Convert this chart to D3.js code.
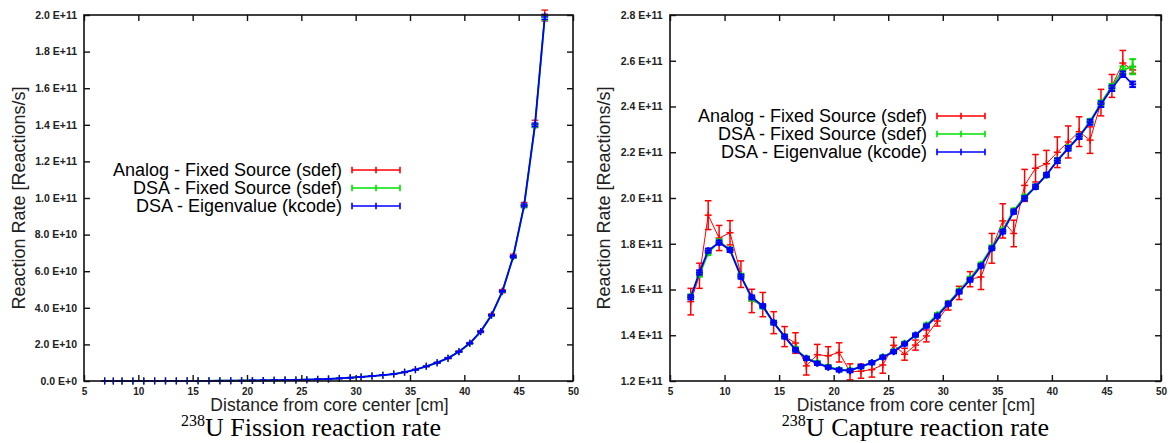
<!DOCTYPE html>
<html><head><meta charset="utf-8">
<script src="https://cdn.jsdelivr.net/npm/d3@7"></script>
<style>body{margin:0;background:#fff;}svg{display:block}</style>
</head><body>
<svg id="c" width="1170" height="443"></svg>
<script>
// ---------------- DATA ----------------
const distance = [6.9, 7.7, 8.5, 9.5, 10.5, 11.5, 12.5, 13.5, 14.5, 15.5, 16.5, 17.5, 18.5, 19.5, 20.5, 21.5, 22.5, 23.5, 24.5, 25.5,
  26.5, 27.5, 28.5, 29.5, 30.5, 31.5, 32.5, 33.5, 34.5, 35.5, 36.5, 37.5, 38.5, 39.5, 40.5, 41.5, 42.5, 43.5, 44.5, 45.5, 46.5, 47.4];

const seriesNames = ["Analog - Fixed Source (sdef)", "DSA - Fixed Source (sdef)", "DSA - Eigenvalue (kcode)"];

// U-238 fission rate, in units of 1E+10 reactions/s
const fissionAnalog = [0.004, 0.004, 0.004, 0.005, 0.005, 0.006, 0.006, 0.007, 0.008, 0.010, 0.012, 0.015, 0.018, 0.022, 0.027, 0.033, 0.040, 0.050, 0.060, 0.075,
  0.090, 0.11, 0.14, 0.18, 0.22, 0.27, 0.32, 0.38, 0.48, 0.62, 0.80, 1.00, 1.25, 1.61, 2.06, 2.70, 3.60, 4.91, 6.82, 9.62, 14.05, 19.97];
const fissionAnalogErr = [0.003, 0.003, 0.003, 0.003, 0.003, 0.003, 0.003, 0.003, 0.003, 0.003, 0.003, 0.003, 0.004, 0.004, 0.004, 0.004, 0.005, 0.005, 0.006, 0.006,
  0.007, 0.008, 0.009, 0.01, 0.012, 0.014, 0.016, 0.018, 0.02, 0.024, 0.028, 0.03, 0.035, 0.04, 0.05, 0.06, 0.07, 0.09, 0.11, 0.14, 0.2, 0.3];
const fissionDSAFixed = [0.004, 0.004, 0.004, 0.005, 0.005, 0.006, 0.006, 0.007, 0.008, 0.010, 0.012, 0.015, 0.018, 0.022, 0.027, 0.033, 0.040, 0.050, 0.060, 0.075,
  0.090, 0.11, 0.14, 0.18, 0.22, 0.27, 0.32, 0.38, 0.48, 0.62, 0.80, 1.00, 1.25, 1.60, 2.05, 2.69, 3.58, 4.88, 6.77, 9.55, 13.95, 19.85];
const fissionDSAFixedErr = [0.002, 0.002, 0.002, 0.002, 0.002, 0.002, 0.002, 0.002, 0.002, 0.002, 0.002, 0.002, 0.002, 0.002, 0.002, 0.003, 0.003, 0.003, 0.003, 0.003,
  0.003, 0.004, 0.004, 0.005, 0.005, 0.006, 0.006, 0.007, 0.008, 0.009, 0.01, 0.012, 0.014, 0.016, 0.02, 0.025, 0.03, 0.04, 0.06, 0.08, 0.1, 0.14];
const fissionDSAEig = [0.004, 0.004, 0.004, 0.005, 0.005, 0.006, 0.006, 0.007, 0.008, 0.010, 0.012, 0.015, 0.018, 0.022, 0.027, 0.033, 0.040, 0.050, 0.060, 0.075,
  0.090, 0.11, 0.14, 0.18, 0.22, 0.27, 0.32, 0.38, 0.48, 0.62, 0.80, 1.00, 1.25, 1.60, 2.06, 2.70, 3.60, 4.90, 6.80, 9.60, 14.0, 19.9];
const fissionDSAEigErr = [0.002, 0.002, 0.002, 0.002, 0.002, 0.002, 0.002, 0.002, 0.002, 0.002, 0.002, 0.002, 0.002, 0.002, 0.002, 0.003, 0.003, 0.003, 0.003, 0.003,
  0.003, 0.004, 0.004, 0.005, 0.005, 0.006, 0.006, 0.007, 0.008, 0.009, 0.01, 0.012, 0.014, 0.016, 0.02, 0.025, 0.03, 0.04, 0.06, 0.08, 0.1, 0.14];

// U-238 capture rate, in units of 1E+11 reactions/s
const captureAnalog = [1.547, 1.660, 1.925, 1.825, 1.848, 1.667, 1.550, 1.534, 1.455, 1.394, 1.366, 1.266, 1.315, 1.310, 1.325, 1.240, 1.243, 1.250, 1.270, 1.356,
  1.317, 1.357, 1.397, 1.462, 1.530, 1.585, 1.645, 1.655, 1.780, 1.900, 1.845, 2.055, 2.130, 2.150, 2.200, 2.245, 2.290, 2.253, 2.417, 2.490, 2.590, 2.560];
const captureAnalogErr = [0.058, 0.055, 0.063, 0.055, 0.053, 0.058, 0.051, 0.053, 0.048, 0.044, 0.045, 0.040, 0.045, 0.040, 0.042, 0.035, 0.031, 0.033, 0.036, 0.035,
  0.026, 0.022, 0.026, 0.022, 0.020, 0.029, 0.033, 0.055, 0.065, 0.075, 0.058, 0.070, 0.060, 0.058, 0.067, 0.070, 0.065, 0.058, 0.058, 0.050, 0.055, 0.015];
const captureDSAFixed = [1.570, 1.665, 1.760, 1.810, 1.775, 1.660, 1.560, 1.525, 1.455, 1.395, 1.340, 1.300, 1.280, 1.262, 1.250, 1.248, 1.262, 1.280, 1.305, 1.330,
  1.365, 1.400, 1.445, 1.490, 1.540, 1.595, 1.648, 1.710, 1.785, 1.860, 1.945, 2.005, 2.050, 2.100, 2.165, 2.220, 2.270, 2.335, 2.415, 2.487, 2.560, 2.574];
const captureDSAFixedErr = [0.009, 0.009, 0.009, 0.009, 0.009, 0.009, 0.008, 0.008, 0.008, 0.008, 0.008, 0.007, 0.007, 0.007, 0.007, 0.007, 0.007, 0.007, 0.007, 0.007,
  0.007, 0.007, 0.007, 0.007, 0.008, 0.008, 0.008, 0.008, 0.008, 0.008, 0.009, 0.009, 0.009, 0.009, 0.010, 0.010, 0.010, 0.011, 0.012, 0.012, 0.015, 0.033];
const captureDSAEig = [1.566, 1.675, 1.770, 1.805, 1.773, 1.656, 1.566, 1.528, 1.455, 1.394, 1.336, 1.299, 1.277, 1.260, 1.248, 1.245, 1.263, 1.280, 1.304, 1.328,
  1.362, 1.401, 1.440, 1.484, 1.537, 1.590, 1.642, 1.703, 1.780, 1.853, 1.940, 1.999, 2.049, 2.101, 2.163, 2.217, 2.268, 2.331, 2.410, 2.480, 2.541, 2.497];
const captureDSAEigErr = [0.009, 0.009, 0.009, 0.009, 0.009, 0.009, 0.008, 0.008, 0.008, 0.008, 0.008, 0.007, 0.007, 0.007, 0.007, 0.007, 0.007, 0.007, 0.007, 0.007,
  0.007, 0.007, 0.007, 0.007, 0.008, 0.008, 0.008, 0.008, 0.008, 0.008, 0.009, 0.009, 0.009, 0.009, 0.010, 0.010, 0.010, 0.011, 0.012, 0.012, 0.012, 0.012];

const xTicks = [5, 10, 15, 20, 25, 30, 35, 40, 45, 50];
const xTickLabels = ["5", "10", "15", "20", "25", "30", "35", "40", "45", "50"];
const fissionYTicks = [0, 2, 4, 6, 8, 10, 12, 14, 16, 18, 20];
const fissionYTickLabels = ["0.0 E+0", "2.0 E+10", "4.0 E+10", "6.0 E+10", "8.0 E+10", "1.0 E+11", "1.2 E+11", "1.4 E+11", "1.6 E+11", "1.8 E+11", "2.0 E+11"];
const captureYTicks = [1.2, 1.4, 1.6, 1.8, 2.0, 2.2, 2.4, 2.6, 2.8];
const captureYTickLabels = ["1.2 E+11", "1.4 E+11", "1.6 E+11", "1.8 E+11", "2.0 E+11", "2.2 E+11", "2.4 E+11", "2.6 E+11", "2.8 E+11"];

const xTitle = "Distance from core center [cm]";
const yTitle = "Reaction Rate [Reactions/s]";

// ---------------- DRAWING ----------------
const svg = d3.select("#c");
const colors = ["#ff0000", "#00e000", "#0000ff"];
const lineW = [1, 1.8, 1.8];
const SANS = "'Liberation Sans', Arial, sans-serif";
const SERIF = "'Liberation Serif', 'Times New Roman', serif";

function drawPanel(o) {
  const g = svg.append("g");
  const x = d3.scaleLinear().domain([5, 50]).range([o.left, o.right]);
  const y = d3.scaleLinear().domain(o.yDomain).range([o.bottom, o.top]);

  // series
  o.series.forEach((s, i) => {
    const col = colors[i];
    const pts = distance.map((d, j) => ({ x: d, v: s.v[j], e: s.e[j] }));
    g.append("path").datum(pts)
      .attr("d", d3.line().x(d => x(d.x)).y(d => y(d.v)))
      .attr("fill", "none").attr("stroke", col).attr("stroke-width", lineW[i]);
    const eb = g.append("g").attr("stroke", col).attr("stroke-width", o.barW[i]).attr("fill", "none");
    const cw = 3.3, pm = 3.5;
    pts.forEach(d => {
      const cx = x(d.x), y1 = y(d.v + d.e), y2 = y(d.v - d.e), yc = y(d.v);
      eb.append("line").attr("x1", cx).attr("x2", cx).attr("y1", y1).attr("y2", y2);
      eb.append("line").attr("x1", cx - cw).attr("x2", cx + cw).attr("y1", y1).attr("y2", y1);
      eb.append("line").attr("x1", cx - cw).attr("x2", cx + cw).attr("y1", y2).attr("y2", y2);
      eb.append("line").attr("x1", cx - pm).attr("x2", cx + pm).attr("y1", yc).attr("y2", yc);
      eb.append("line").attr("x1", cx).attr("x2", cx).attr("y1", yc - pm).attr("y2", yc + pm);
    });
  });

  // axes (inward ticks on all sides)
  const ax = [];
  ax.push(g.append("g").attr("transform", `translate(0,${o.bottom})`)
    .call(d3.axisBottom(x).tickValues(xTicks).tickFormat((d, i) => xTickLabels[i]).tickSizeInner(-6).tickSizeOuter(0).tickPadding(6.5)));
  ax.push(g.append("g").attr("transform", `translate(0,${o.top})`)
    .call(d3.axisTop(x).tickValues(xTicks).tickFormat("").tickSizeInner(-6).tickSizeOuter(0)));
  ax.push(g.append("g").attr("transform", `translate(${o.left},0)`)
    .call(d3.axisLeft(y).tickValues(o.yTicks).tickFormat((d, i) => o.yLabels[i]).tickSizeInner(-6).tickSizeOuter(0).tickPadding(o.yPad)));
  ax.push(g.append("g").attr("transform", `translate(${o.right},0)`)
    .call(d3.axisRight(y).tickValues(o.yTicks).tickFormat("").tickSizeInner(-6).tickSizeOuter(0)));
  ax.forEach((a, k) => {
    a.select(".domain").remove();
    a.selectAll(".tick line").attr("stroke", "#111").attr("stroke-width", 1.4);
    a.selectAll(".tick text").attr("fill", "#222").attr("font-family", SANS)
      .attr("font-weight", "bold").attr("font-size", k === 2 ? 10.5 : 10);
  });

  // frame
  g.append("rect").attr("x", o.left).attr("y", o.top)
    .attr("width", o.right - o.left).attr("height", o.bottom - o.top)
    .attr("fill", "none").attr("stroke", "#111").attr("stroke-width", 1.6);

  // axis titles
  g.append("text").attr("x", o.xTitleX).attr("y", 411).attr("text-anchor", "middle")
    .attr("font-family", SANS).attr("font-size", 17.5).attr("fill", "#222").text(xTitle);
  g.append("text").attr("transform", `translate(${o.yTitleX},${(o.top + o.bottom) / 2}) rotate(-90)`)
    .attr("text-anchor", "middle").attr("font-family", SANS).attr("font-size", 18).attr("fill", "#222").text(yTitle);

  // legend
  seriesNames.forEach((name, i) => {
    const ly = o.legendY + i * 18;
    g.append("text").attr("x", o.legendTextX).attr("y", ly + 6).attr("text-anchor", "end")
      .attr("font-family", SANS).attr("font-size", 18).attr("fill", "#000").text(name);
    const lg = g.append("g").attr("stroke", colors[i]).attr("stroke-width", 1.6);
    const x0 = o.legendTextX + 10, x1 = x0 + 48, xm = (x0 + x1) / 2;
    lg.append("line").attr("x1", x0).attr("x2", x1).attr("y1", ly).attr("y2", ly);
    [x0, xm, x1].forEach(xx => lg.append("line").attr("x1", xx).attr("x2", xx).attr("y1", ly - 3.2).attr("y2", ly + 3.2));
  });

  // caption
  const cap = g.append("text").attr("x", o.captionX).attr("y", 436).attr("text-anchor", "middle")
    .attr("font-family", SERIF).attr("fill", "#000");
  cap.append("tspan").attr("font-size", 16).attr("dy", -10).text("238");
  cap.append("tspan").attr("font-size", 26).attr("dy", 10).text(o.caption);
}

drawPanel({
  left: 84, right: 573, top: 15, bottom: 381,
  yDomain: [0, 20], yTicks: fissionYTicks, yLabels: fissionYTickLabels, yPad: 7,
  barW: [1.3, 1.3, 1.3],
  series: [
    { v: fissionAnalog, e: fissionAnalogErr },
    { v: fissionDSAFixed, e: fissionDSAFixedErr },
    { v: fissionDSAEig, e: fissionDSAEigErr }
  ],
  xTitleX: 329.5, yTitleX: 25, legendY: 170, legendTextX: 342,
  captionX: 311, caption: "U Fission reaction rate"
});

drawPanel({
  left: 670, right: 1161, top: 15, bottom: 381,
  yDomain: [1.2, 2.8], yTicks: captureYTicks, yLabels: captureYTickLabels, yPad: 7.5,
  barW: [1.5, 2, 2],
  series: [
    { v: captureAnalog, e: captureAnalogErr },
    { v: captureDSAFixed, e: captureDSAFixedErr },
    { v: captureDSAEig, e: captureDSAEigErr }
  ],
  xTitleX: 916, yTitleX: 610, legendY: 116, legendTextX: 927,
  captionX: 915.5, caption: "U Capture reaction rate"
});
</script>
</body></html>
